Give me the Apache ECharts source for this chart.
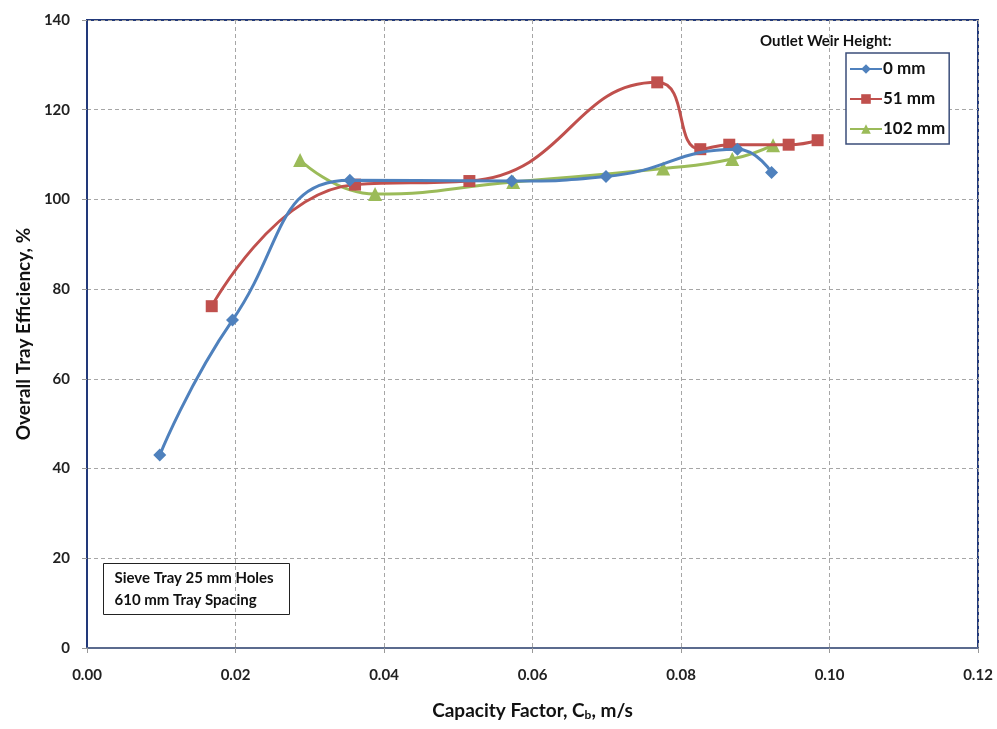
<!DOCTYPE html>
<html><head><meta charset="utf-8">
<script src="https://cdn.jsdelivr.net/npm/echarts@6/dist/echarts.min.js"></script>
<style>html,body{margin:0;padding:0;background:#fff}#c{width:997px;height:729px}</style>
</head><body><div id="c"></div>
<script>
var xTicks = [0, 0.02, 0.04, 0.06, 0.08, 0.10, 0.12];
var yTicks = [0, 20, 40, 60, 80, 100, 120, 140];
var seriesNames = ['0 mm', '51 mm', '102 mm'];
var x0mm = [0.0098, 0.0196, 0.0354, 0.0572, 0.0699, 0.0876, 0.0922];
var y0mm = [43.0, 73.1, 104.3, 104.1, 105.1, 111.2, 106.0];
var x51mm = [0.0168, 0.0361, 0.0515, 0.0768, 0.0826, 0.0865, 0.0945, 0.0984];
var y51mm = [76.2, 103.3, 104.1, 126.1, 111.2, 112.2, 112.2, 113.2];
var x102mm = [0.0287, 0.0388, 0.0574, 0.0776, 0.0869, 0.0924];
var y102mm = [108.8, 101.2, 103.9, 106.9, 109.0, 112.1];

function pairs(xs, ys){ return xs.map(function(x,i){return [x, ys[i]];}); }
var FONT = 'Lato';
var chart = echarts.init(document.getElementById('c'), null, {renderer:'canvas'});
var colors = ['#4F81BD', '#C0504D', '#9BBB59'];
var symbols = ['diamond', 'rect', 'triangle'];
var sizes = [13, 12, 14];
var xs = [x0mm, x51mm, x102mm], ys = [y0mm, y51mm, y102mm];
var series = seriesNames.map(function(n, i){
  return {
    name: n, type: 'line', smooth: 0.5,
    data: pairs(xs[i], ys[i]),
    symbol: symbols[i], symbolSize: sizes[i], showSymbol: true,
    lineStyle: {color: colors[i], width: 3},
    itemStyle: {color: colors[i]},
    z: 3 + (2 - i)
  };
});
chart.setOption({
  animation: false,
  backgroundColor: '#fff',
  grid: {left: 87, right: 19, top: 20, bottom: 81, show: true, borderColor: '#22397A', borderWidth: 2, backgroundColor: 'transparent'},
  xAxis: {
    type: 'value', min: xTicks[0], max: xTicks[xTicks.length-1], interval: 0.02,
    axisLine: {show: true, lineStyle: {color: '#5B6B8E', width: 2}},
    axisTick: {show: true, length: 5, lineStyle: {color: '#999'}},
    axisLabel: {margin: 20, fontFamily: FONT, fontWeight: 'bold', fontSize: 15, color: '#222',
      formatter: function(v){ return v.toFixed(2); }},
    splitLine: {show: true, lineStyle: {color: '#A6A6A6', type: [4, 3], width: 1}},
    name: '{a|Capacity Factor, C}{s|b}{a|, m/s}', nameLocation: 'middle', nameGap: 52,
    nameTextStyle: {rich: {
      a: {fontFamily: FONT, fontWeight: 'bold', fontSize: 19, color: '#111'},
      s: {fontFamily: FONT, fontWeight: 'bold', fontSize: 12, color: '#111', verticalAlign: 'bottom', padding: [9,0,0,0]}
    }}
  },
  yAxis: {
    type: 'value', min: yTicks[0], max: yTicks[yTicks.length-1], interval: 20,
    axisLine: {show: true, lineStyle: {color: '#22397A', width: 2}},
    axisTick: {show: true, length: 5, lineStyle: {color: '#999'}},
    axisLabel: {margin: 17, fontFamily: FONT, fontWeight: 'bold', fontSize: 15, color: '#222'},
    splitLine: {show: true, lineStyle: {color: '#A6A6A6', type: [4, 3], width: 1}},
    name: 'Overall Tray Efficiency, %', nameLocation: 'middle', nameGap: 53,
    nameTextStyle: {fontFamily: FONT, fontWeight: 'bold', fontSize: 19, color: '#111'}
  },
  legend: {
    data: seriesNames, orient: 'vertical', left: 846, top: 53,
    width: 101, itemWidth: 32, itemHeight: 12, itemGap: 12,
    padding: [7, 4, 6, 3],
    borderColor: '#3B4E7A', borderWidth: 1.5, backgroundColor: '#fff',
    textStyle: {fontFamily: FONT, fontWeight: 'bold', fontSize: 17, color: '#111', padding: [0,0,0,-4], lineHeight: 18}
  },
  graphic: [
    {type: 'text', left: 760, top: 34, style: {text: 'Outlet Weir Height:', fontFamily: FONT, fontWeight: 'bold', fontSize: 15, fill: '#111'}},
    {type: 'group', left: 103, top: 563, children: [
      {type: 'rect', shape: {x: 0, y: 0, width: 186, height: 51}, style: {fill: '#fff', stroke: '#222', lineWidth: 1}},
      {type: 'text', left: 11, top: 7, style: {text: 'Sieve Tray 25 mm Holes', fontFamily: FONT, fontWeight: 'bold', fontSize: 15, fill: '#111'}},
      {type: 'text', left: 11, top: 29, style: {text: '610 mm Tray Spacing', fontFamily: FONT, fontWeight: 'bold', fontSize: 15, fill: '#111'}}
    ]}
  ],
  series: series
});
</script></body></html>
